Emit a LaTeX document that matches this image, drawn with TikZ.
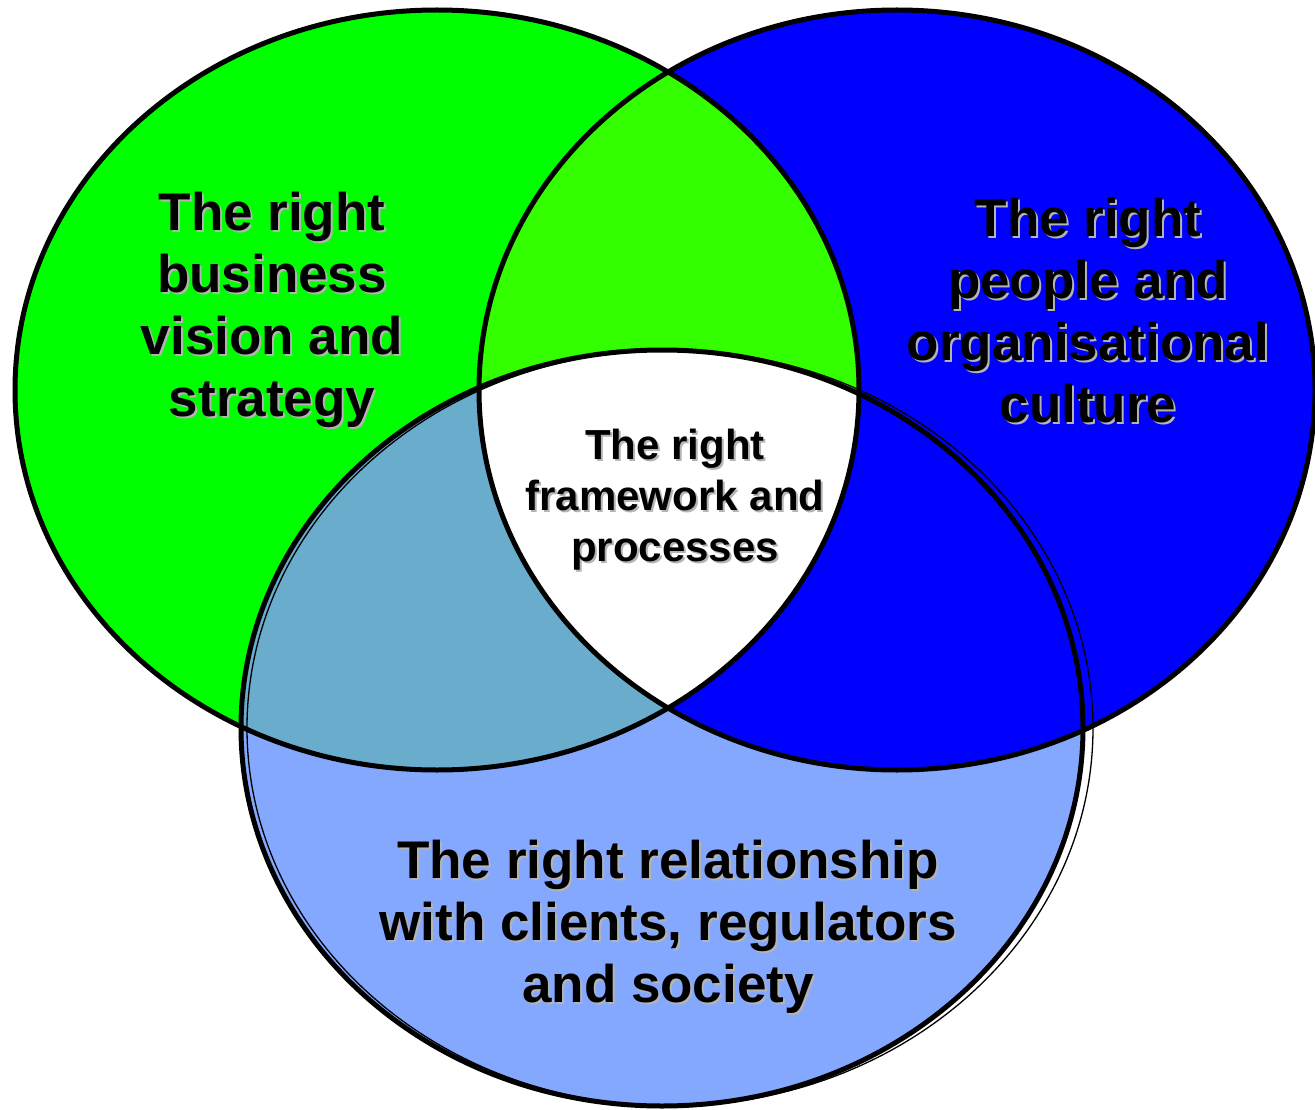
\documentclass[tikz,border=0pt]{standalone}
\usepackage{fontspec}
\setmainfont{Liberation Sans}

\definecolor{visiongreen}{HTML}{00FF00}
\definecolor{peopleblue}{HTML}{0000FF}
\definecolor{clientblue}{HTML}{85A8FF}
\definecolor{overlapgreen}{HTML}{33FF00}
\definecolor{overlapteal}{HTML}{69ACCC}
\definecolor{shadowgray}{HTML}{B4B4B4}

% the three sets
\newcommand{\visionset}{(437,390) ellipse [x radius=422pt, y radius=380pt]}
\newcommand{\peopleset}{(897,390) ellipse [x radius=418pt, y radius=380pt]}
\newcommand{\clientset}{(662,728) ellipse [x radius=421pt, y radius=378pt]}

% text with a soft grey drop shadow behind it
\newcommand{\shadowlabel}[4]{%
  \node[#3, text=shadowgray, xshift=2pt, yshift=-2pt] at (#2) {#4};
  \node[#3] (#1) at (#2) {#4};
}

\tikzset{
  setline/.style={draw=black, line width=5pt},
  biglabel/.style={font=\bfseries\fontsize{53}{62}\selectfont, align=center, inner sep=0pt},
  smalllabel/.style={font=\bfseries\fontsize{42}{51}\selectfont, align=center, inner sep=0pt}
}

\begin{document}
\begin{tikzpicture}[x=1pt, y=-1pt]
  \useasboundingbox (0,0) rectangle (1315,1110);

  % Fills
  \fill[visiongreen] \visionset;
  \fill[peopleblue] \peopleset;
  \fill[clientblue] \clientset;

  % Overlaps
  \begin{scope}
    \clip \visionset;
    \fill[overlapgreen] \peopleset;
    \fill[overlapteal] \clientset;
  \end{scope}
  \begin{scope}
    \clip \peopleset;
    \fill[peopleblue] \clientset;
  \end{scope}
  \begin{scope}
    \clip \visionset;
    \clip \peopleset;
    \fill[white] \clientset;
  \end{scope}

  % Outlines
  \draw[setline] \visionset;
  \draw[setline] \peopleset;
  \draw[setline] \clientset;
  \draw[line width=1.3pt] (670,728) ellipse [x radius=423pt, y radius=378pt];

  % Labels
  \shadowlabel{vision}{272,310}{biglabel}{The right\\business\\vision and\\strategy}
  \shadowlabel{people}{1088,311}{biglabel}{The right\\people and\\organisational\\culture}
  \shadowlabel{clients}{668,927}{biglabel}{The right relationship\\with clients, regulators\\and society}
  \shadowlabel{framework}{675,500}{smalllabel}{The right\\framework and\\processes}
\end{tikzpicture}
\end{document}
